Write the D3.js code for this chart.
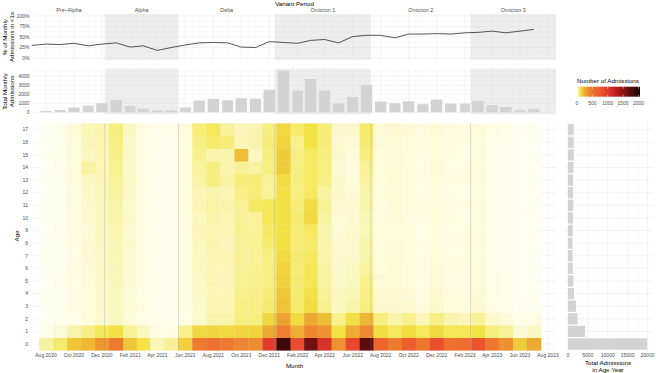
<!DOCTYPE html>
<html><head><meta charset="utf-8">
<script src="https://cdn.jsdelivr.net/npm/d3@7"></script>
<style>
body{margin:0;background:#fff;}
text{font-family:"Liberation Sans",Arial,Helvetica,sans-serif;}
</style>
</head><body>
<svg id="c" width="658" height="373"></svg>
<script>
// ---------------- DATA ----------------
const heatMonths = ["2020-08","2020-09","2020-10","2020-11","2020-12","2021-01","2021-02","2021-03","2021-04","2021-05","2021-06","2021-07",
  "2021-08","2021-09","2021-10","2021-11","2021-12","2022-01","2022-02","2022-03","2022-04","2022-05","2022-06","2022-07",
  "2022-08","2022-09","2022-10","2022-11","2022-12","2023-01","2023-02","2023-03","2023-04","2023-05","2023-06","2023-07"];
const lineMonths = ["2020-07"].concat(heatMonths);
const pctUnder1 = [30,33,32,35,29,33,36,26,29,18,25,31,36,37,36,26,25,39,37,35,42,44,36,51,54,54,48,57,57,58,57,60,61,64,60,64,68];
const monthlyTotals = [150,260,520,740,1000,1330,700,400,220,220,520,1300,1480,1330,1550,1480,2480,4590,2370,3670,2400,960,1700,3000,
  1190,1000,1220,890,1400,960,960,1260,780,590,260,370];
const ages = [0,1,2,3,4,5,6,7,8,9,10,11,12,13,14,15,16,17];
const ageTotals = [19900,4300,2400,2000,1500,1330,1200,1150,1150,1200,1300,1350,1250,1300,1400,1450,1450,1450];
// admissions per month (rows) by age 0..17 (columns)
const countsByMonth = [
 [50,10,5,5,6,4,5,6,5,4,5,6,5,5,4,6,5,5],
 [83,25,8,9,8,10,9,8,9,10,9,8,10,9,10,11,10,12],
 [182,45,14,15,15,16,17,15,16,18,17,18,18,20,20,19,22,24],
 [215,65,20,22,22,24,25,27,28,26,28,30,32,34,50,36,38,40],
 [330,100,28,30,30,32,33,32,34,35,36,36,38,38,40,40,42,44],
 [480,120,34,36,36,38,38,40,40,42,44,46,50,54,58,62,66,70],
 [182,55,24,26,25,28,27,28,30,28,30,29,30,32,30,32,30,34],
 [116,35,14,15,14,16,15,16,15,16,16,15,16,17,15,16,15,16],
 [40,15,9,10,10,11,10,10,11,10,11,10,11,10,11,10,11,10],
 [55,15,9,9,9,10,9,9,10,9,9,10,9,9,10,9,9,11],
 [161,60,15,16,16,17,17,18,18,19,19,20,20,21,21,20,21,22],
 [468,140,30,30,32,32,34,34,36,38,36,40,42,48,52,60,66,72],
 [548,150,45,42,40,42,40,42,44,42,45,48,45,70,70,45,85,95],
 [479,140,45,42,40,38,40,42,38,40,42,45,42,50,45,45,75,55],
 [403,150,70,65,60,58,55,55,55,58,55,55,65,75,55,200,40,38],
 [370,150,70,65,65,60,58,55,58,55,55,90,75,75,50,35,45,45],
 [967,250,140,80,75,70,65,70,80,90,100,100,55,55,70,70,75,70],
 [1850,450,280,190,180,160,150,130,120,120,120,120,120,130,170,170,150,140],
 [830,240,130,85,80,80,75,80,75,75,80,75,70,70,70,65,60,85],
 [1620,400,250,130,120,100,100,90,85,90,140,130,90,90,90,90,110,110],
 [1056,350,200,60,55,50,50,45,45,45,50,55,50,65,70,70,75,75],
 [346,110,60,35,35,32,30,30,28,25,25,28,30,30,28,30,28,30],
 [867,250,120,45,40,35,35,30,30,30,28,28,25,22,18,20,25,30],
 [1720,380,220,70,65,60,50,45,45,40,40,45,45,50,55,70,80,85],
 [643,125,70,30,28,25,22,22,20,22,20,20,22,22,22,20,25,25],
 [480,95,45,30,28,26,25,24,24,22,24,26,24,25,24,24,26,28],
 [695,125,60,28,25,22,22,20,20,20,18,20,20,20,22,20,22,25],
 [507,95,40,20,18,16,16,15,15,14,15,16,15,16,15,16,17,18],
 [812,135,65,30,28,25,24,22,22,22,22,20,22,22,24,22,22,25],
 [547,100,45,22,20,18,17,17,16,16,17,16,16,17,16,17,18,18],
 [576,100,40,20,18,17,16,15,15,15,14,15,14,15,15,14,15,16],
 [769,115,55,28,25,22,22,20,20,20,20,20,20,20,22,20,20,22],
 [499,70,30,16,14,13,12,12,12,11,12,11,12,12,11,12,12,13],
 [354,55,25,13,12,11,10,10,10,10,10,9,10,10,10,10,11,11],
 [166,25,12,5,4,4,4,4,4,4,3,4,4,4,4,4,4,5],
 [252,35,15,6,5,5,5,5,4,5,4,5,4,5,4,5,5,5]
];
const xTickMonths = ["2020-08","2020-10","2020-12","2021-02","2021-04","2021-06","2021-08","2021-10","2021-12","2022-02","2022-04","2022-06",
  "2022-08","2022-10","2022-12","2023-02","2023-04","2023-06","2023-08"];
const periodNames = ["Pre\u2013Alpha","Alpha","Delta","Omicron 1","Omicron 2","Omicron 3"];
const periodBreaks = ["2020-12-07","2021-05-17","2021-12-13","2022-07-11","2023-02-13"];
const shadedPeriods = ["Alpha","Omicron 1","Omicron 3"];
const pctTicks = [0,0.25,0.5,0.75,1];
const barTicks = [0,1000,2000,3000,4000];
const ageTotalTicks = [0,5000,10000,15000,20000];
const legendTicks = [0,500,1000,1500,2000];
const colorStops = [0,25,60,110,170,250,400,600,900,1200,1500,1800,2050];
const colorValues = ["#FFFFF6","#FCFAD6","#F7F08C","#F3E446","#EFCA3A","#EDAA33","#EE8530","#EE6A2E","#E8432E","#C82424","#8E1414","#4A0B0A","#150000"];

// ---------------- LAYOUT ----------------
const svg = d3.select("#c");
const parseM = d3.utcParse("%Y-%m");
const parseD = d3.utcParse("%Y-%m-%d");
const fmt = d3.utcFormat("%b %Y");
const X0 = 33, X1 = 556;
const x = d3.scaleUtc().domain([parseM("2020-08"), parseM("2023-08")]).range([46, 548]);
const axisCol = "#4D4D4D", gridMaj = "#E6E6E6", gridMin = "#F1F1F1";
const fAxis = 5, fTitle = 6.2;

const allMonths = d3.utcMonths(d3.utcMonth.offset(parseM("2020-08"), -1), d3.utcMonth.offset(parseM("2023-08"), 1));
const tickDates = xTickMonths.map(parseM);
const tickSet = new Set(tickDates.map(d => +d));

function vGrid(g, y0, y1) {
  allMonths.forEach(d => {
    const px = x(d);
    if (px < X0 || px > X1) return;
    const maj = tickSet.has(+d);
    g.append("line").attr("x1", px).attr("x2", px).attr("y1", y0).attr("y2", y1)
      .attr("stroke", maj ? gridMaj : gridMin).attr("stroke-width", maj ? 0.5 : 0.35);
    const mid = (x(d) + x(d3.utcMonth.offset(d, 1))) / 2;
    if (mid > X0 && mid < X1)
      g.append("line").attr("x1", mid).attr("x2", mid).attr("y1", y0).attr("y2", y1)
        .attr("stroke", gridMin).attr("stroke-width", 0.3);
  });
}
function hGrid(g, ys, maj, xa, xb) {
  ys.forEach(yv => g.append("line").attr("x1", xa).attr("x2", xb).attr("y1", yv).attr("y2", yv)
    .attr("stroke", maj ? gridMaj : gridMin).attr("stroke-width", maj ? 0.5 : 0.35));
}

// periods
const bDates = periodBreaks.map(parseD);
const pEdges = [X0].concat(bDates.map(d => x(d))).concat([X1]);
const periods = periodNames.map((n, i) => ({name: n, x0: pEdges[i], x1: pEdges[i + 1]}));

// ---------------- TOP PANEL: % under 1 ----------------
const pT = {y0: 14, y1: 60};
const yP = d3.scaleLinear().domain([0, 1]).range([58, 16]);
const gT = svg.append("g");
vGrid(gT, pT.y0, pT.y1);
hGrid(gT, pctTicks.map(yP), true, X0, X1);
hGrid(gT, pctTicks.slice(0, -1).map((t, i) => yP((t + pctTicks[i + 1]) / 2)), false, X0, X1);
periods.filter(p => shadedPeriods.includes(p.name)).forEach(p =>
  gT.append("rect").attr("x", p.x0).attr("y", pT.y0).attr("width", p.x1 - p.x0).attr("height", pT.y1 - pT.y0)
    .attr("fill", "#D6D6D6").attr("opacity", 0.42));
gT.append("path").datum(lineMonths.map((m, i) => [x(parseM(m)), yP(pctUnder1[i] / 100)]))
  .attr("d", d3.line().curve(d3.curveLinear)).attr("fill", "none").attr("stroke", "#2b2b2b").attr("stroke-width", 0.8);
pctTicks.forEach(t => gT.append("text").attr("x", 29.5).attr("y", yP(t)).attr("dy", "0.35em")
  .attr("text-anchor", "end").attr("font-size", fAxis).attr("fill", axisCol).text(d3.format(".0%")(t)));
// period labels + title
periods.forEach(p => svg.append("text").attr("x", (p.x0 + p.x1) / 2).attr("y", 11.5).attr("text-anchor", "middle")
  .attr("font-size", 5.4).attr("fill", axisCol).text(p.name));
svg.append("text").attr("x", (X0 + X1) / 2).attr("y", 6.3).attr("text-anchor", "middle")
  .attr("font-size", fTitle).attr("fill", "#000").text("Variant Period");
function yTitle(lines, cy, xs) {
  lines.forEach((l, i) => svg.append("text").attr("transform", `translate(${xs[i]},${cy}) rotate(-90)`)
    .attr("text-anchor", "middle").attr("font-size", fTitle).attr("fill", "#000").text(l));
}
yTitle(["% of Monthly", "Admissions in <1s"], 37, [7, 13.5]);

// ---------------- BAR PANEL: monthly totals ----------------
const pB = {y0: 68.6, y1: 114.4};
const yB = d3.scaleLinear().domain([0, 4000]).range([112.3, 76]);
const gB = svg.append("g");
vGrid(gB, pB.y0, pB.y1);
hGrid(gB, barTicks.map(yB), true, X0, X1);
hGrid(gB, barTicks.slice(0, -1).map(t => yB(t + 500)), false, X0, X1);
hGrid(gB, [yB(4500)], false, X0, X1);
periods.filter(p => shadedPeriods.includes(p.name)).forEach(p =>
  gB.append("rect").attr("x", p.x0).attr("y", pB.y0).attr("width", p.x1 - p.x0).attr("height", pB.y1 - pB.y0)
    .attr("fill", "#D6D6D6").attr("opacity", 0.42));
heatMonths.forEach((m, i) => {
  const d = parseM(m);
  const w = (x(d3.utcMonth.offset(d, 1)) - x(d)) * 0.8;
  gB.append("rect").attr("x", x(d) - w / 2).attr("y", yB(monthlyTotals[i]))
    .attr("width", w).attr("height", yB(0) - yB(monthlyTotals[i])).attr("fill", "#D3D3D3");
});
barTicks.forEach(t => gB.append("text").attr("x", 29.5).attr("y", yB(t)).attr("dy", "0.35em")
  .attr("text-anchor", "end").attr("font-size", fAxis).attr("fill", axisCol).text(t));
yTitle(["Total Monthly", "Admissions"], 91.5, [7, 13.5]);

// ---------------- HEATMAP ----------------
const pH = {y0: 123.4, y1: 350.3};
const yH = d3.scaleBand().domain(ages.slice().reverse()).range([pH.y0, pH.y1]).padding(0);
const color = d3.scaleLinear().domain(colorStops).range(colorValues).interpolate(d3.interpolateRgb).clamp(true);
const gH = svg.append("g");
vGrid(gH, pH.y0, pH.y1);
hGrid(gH, ages.map(a => yH(a) + yH.bandwidth() / 2), true, X0, X1);
heatMonths.forEach((m, i) => {
  const d = parseM(m);
  const xl = (x(d3.utcMonth.offset(d, -1)) + x(d)) / 2;
  const xr = (x(d) + x(d3.utcMonth.offset(d, 1))) / 2;
  ages.forEach(a => {
    gH.append("rect").attr("x", xl).attr("y", yH(a)).attr("width", xr - xl + 0.3).attr("height", yH.bandwidth() + 0.3)
      .attr("fill", color(countsByMonth[i][a]));
  });
});
bDates.forEach(d => gH.append("line").attr("x1", x(d)).attr("x2", x(d)).attr("y1", pH.y0).attr("y2", pH.y1)
  .attr("stroke", "#8a8a8a").attr("stroke-opacity", 0.45).attr("stroke-width", 0.6));
ages.forEach(a => gH.append("text").attr("x", 28).attr("y", yH(a) + yH.bandwidth() / 2).attr("dy", "0.35em")
  .attr("text-anchor", "end").attr("font-size", fAxis).attr("fill", axisCol).text(a));
tickDates.forEach(d => gH.append("text").attr("x", x(d)).attr("y", 357).attr("text-anchor", "middle")
  .attr("font-size", fAxis).attr("fill", axisCol).text(fmt(d)));
svg.append("text").attr("x", (X0 + X1) / 2).attr("y", 368).attr("text-anchor", "middle")
  .attr("font-size", fTitle).attr("fill", "#000").text("Month");
yTitle(["Age"], 236, [18.5]);

// ---------------- RIGHT PANEL: totals by age ----------------
const R0 = 564, R1 = 652;
const xR = d3.scaleLinear().domain([0, 20000]).range([568, 647.5]);
const gR = svg.append("g");
ageTotalTicks.forEach(t => gR.append("line").attr("x1", xR(t)).attr("x2", xR(t)).attr("y1", 121).attr("y2", 352)
  .attr("stroke", gridMaj).attr("stroke-width", 0.5));
ageTotalTicks.slice(0, -1).forEach(t => gR.append("line").attr("x1", xR(t + 2500)).attr("x2", xR(t + 2500)).attr("y1", 121).attr("y2", 352)
  .attr("stroke", gridMin).attr("stroke-width", 0.35));
hGrid(gR, ages.map(a => yH(a) + yH.bandwidth() / 2), true, R0, R1);
const bwR = yH.bandwidth() * 0.9;
ages.forEach(a => gR.append("rect").attr("x", xR(0)).attr("y", yH(a) + (yH.bandwidth() - bwR) / 2)
  .attr("width", xR(ageTotals[a]) - xR(0)).attr("height", bwR).attr("fill", "#D3D3D3"));
ageTotalTicks.forEach(t => gR.append("text").attr("x", xR(t)).attr("y", 357).attr("text-anchor", "middle")
  .attr("font-size", fAxis).attr("fill", axisCol).text(t));
svg.append("text").attr("x", 608).attr("y", 364.5).attr("text-anchor", "middle").attr("font-size", fTitle).attr("fill", "#000").text("Total Admissions");
svg.append("text").attr("x", 608).attr("y", 371.5).attr("text-anchor", "middle").attr("font-size", fTitle).attr("fill", "#000").text("in Age Year");

// ---------------- LEGEND ----------------
const xL = d3.scaleLinear().domain([0, 2050]).range([577, 640]);
const grad = svg.append("defs").append("linearGradient").attr("id", "lg").attr("x1", "0%").attr("x2", "100%");
d3.range(0, 2051, 50).forEach(v => grad.append("stop").attr("offset", (v / 2050 * 100) + "%").attr("stop-color", color(v)));
svg.append("text").attr("x", 577).attr("y", 83).attr("font-size", fTitle).attr("fill", "#000").text("Number of Admissions");
svg.append("rect").attr("x", xL(0)).attr("y", 86.7).attr("width", xL(2050) - xL(0)).attr("height", 10).attr("fill", "url(#lg)");
legendTicks.forEach(t => {
  svg.append("line").attr("x1", xL(t)).attr("x2", xL(t)).attr("y1", 86.7).attr("y2", 88.7).attr("stroke", "#fff").attr("stroke-width", 0.5);
  svg.append("line").attr("x1", xL(t)).attr("x2", xL(t)).attr("y1", 94.7).attr("y2", 96.7).attr("stroke", "#fff").attr("stroke-width", 0.5);
  svg.append("text").attr("x", xL(t)).attr("y", 104.5).attr("text-anchor", "middle").attr("font-size", fAxis).attr("fill", axisCol).text(t);
});
</script>
</body></html>
